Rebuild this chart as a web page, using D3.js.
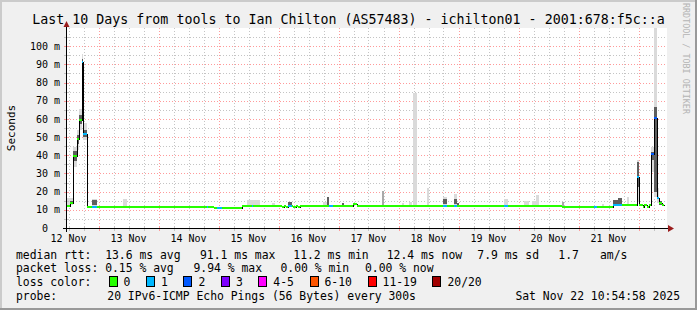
<!DOCTYPE html>
<html><head><meta charset="utf-8">
<script src="https://cdn.jsdelivr.net/npm/d3@7"></script>
<style>
html,body{margin:0;padding:0;background:#f0f0f0;}
svg{display:block;}
text{font-family:"DejaVu Sans Mono",monospace;}
</style></head><body>
<svg id="c" width="697" height="310"></svg>
<script>
// ---------------- data ----------------
const title = "Last 10 Days from tools to Ian Chilton (AS57483) - ichilton01 - 2001:678:f5c::a";
const timeStart = "2025-11-12 11:24";
const timeEnd = "2025-11-22 11:24";
const dataEnd = "2025-11-22 10:12";
const yLabelValues = [0,10,20,30,40,50,60,70,80,90,100];   // ms
const yMinorValues = [5,15,25,35,45,55,65,75,85,95,105];   // ms
const yMax = 110;

// median rtt (ms), step series: value holds from its time until the next time
const medianTimes = [
 "2025-11-12 11:24","2025-11-12 12:36","2025-11-12 13:55","2025-11-12 15:17","2025-11-12 16:12",
 "2025-11-12 17:17","2025-11-12 17:55","2025-11-12 19:17","2025-11-12 21:17","2025-11-12 23:17",
 "2025-11-14 19:17","2025-11-14 19:55","2025-11-14 22:12","2025-11-14 23:17","2025-11-15 01:24",
 "2025-11-15 09:17","2025-11-15 13:17","2025-11-15 13:55","2025-11-16 01:17","2025-11-16 02:12",
 "2025-11-16 03:00","2025-11-16 03:55","2025-11-16 05:17","2025-11-16 05:48","2025-11-16 06:48",
 "2025-11-16 07:36","2025-11-16 08:24","2025-11-16 20:19","2025-11-16 21:55","2025-11-17 05:55",
 "2025-11-17 07:31","2025-11-18 17:55","2025-11-18 19:31","2025-11-18 22:12","2025-11-18 23:31",
 "2025-11-19 18:12","2025-11-19 19:48","2025-11-20 17:17","2025-11-21 06:12","2025-11-21 07:17",
 "2025-11-21 13:55","2025-11-21 17:17","2025-11-21 23:17","2025-11-22 00:19","2025-11-22 01:41",
 "2025-11-22 02:12","2025-11-22 03:17","2025-11-22 04:05","2025-11-22 04:53","2025-11-22 06:12",
 "2025-11-22 07:12","2025-11-22 08:19","2025-11-22 09:17"];
const medianValues = [
 11.9,13.6,39.6,48.8,59.4,
 91.1,51.9,11.8,11.8,11.8,
 11.8,11.8,11.1,11.1,11.1,
 12.3,12.3,12.3,11.8,12.3,
 11.8,12.3,12.3,11.8,12.3,
 11.8,12.3,12.3,12.3,13.2,
 12.3,12.3,12.3,12.3,12.3,
 12.3,12.3,11.8,11.8,11.8,
 12.4,12.4,27.9,12.4,11.7,
 12.4,11.7,12.4,40.5,60.6,
 16.5,13.8,12.4];
// lost pings (of 20) per step -> loss colour bucket index
const medianLoss = [
 0,0,0,0,0,
 1,1,0,1,0,
 1,0,0,1,0,
 0,1,0,0,0,
 0,1,0,0,0,
 0,0,1,0,0,
 0,1,0,1,0,
 1,0,0,1,0,
 1,0,1,0,0,
 0,0,0,2,2,
 1,0,0];

// smoke (ping spread) blocks
const smokeStart = [
 "2025-11-12 11:24","2025-11-12 12:36","2025-11-12 12:36","2025-11-12 13:55","2025-11-12 13:55",
 "2025-11-12 15:17","2025-11-12 15:17","2025-11-12 16:12","2025-11-12 16:12","2025-11-12 17:17",
 "2025-11-12 17:17","2025-11-12 17:55","2025-11-12 17:55","2025-11-12 21:17","2025-11-12 21:17",
 "2025-11-13 09:48","2025-11-15 11:17","2025-11-15 21:17","2025-11-16 03:48","2025-11-16 17:48",
 "2025-11-16 19:17","2025-11-17 01:17","2025-11-17 17:17","2025-11-18 01:17","2025-11-18 04:19",
 "2025-11-18 05:55","2025-11-18 11:17","2025-11-18 17:55","2025-11-18 17:55","2025-11-18 22:12",
 "2025-11-18 22:12","2025-11-18 23:31","2025-11-19 18:12","2025-11-20 02:12","2025-11-20 05:19",
 "2025-11-20 07:05","2025-11-20 17:17","2025-11-21 09:17","2025-11-21 13:55","2025-11-21 15:55",
 "2025-11-21 19:17","2025-11-21 23:17","2025-11-21 23:17","2025-11-22 04:53","2025-11-22 04:53",
 "2025-11-22 06:12","2025-11-22 06:12","2025-11-22 07:12","2025-11-22 08:19"];
const smokeEnd = [
 "2025-11-12 12:36","2025-11-12 13:55","2025-11-12 13:55","2025-11-12 15:17","2025-11-12 15:17",
 "2025-11-12 16:12","2025-11-12 16:12","2025-11-12 17:17","2025-11-12 17:17","2025-11-12 17:55",
 "2025-11-12 17:55","2025-11-12 19:17","2025-11-12 19:17","2025-11-12 23:17","2025-11-12 23:17",
 "2025-11-13 11:24","2025-11-15 16:36","2025-11-15 22:36","2025-11-16 05:17","2025-11-16 19:17",
 "2025-11-16 20:19","2025-11-17 02:12","2025-11-17 18:12","2025-11-18 02:12","2025-11-18 05:31",
 "2025-11-18 07:17","2025-11-18 12:12","2025-11-18 19:31","2025-11-18 19:31","2025-11-18 23:31",
 "2025-11-18 23:31","2025-11-19 00:19","2025-11-19 19:55","2025-11-20 04:12","2025-11-20 07:05",
 "2025-11-20 08:00","2025-11-20 18:12","2025-11-21 10:12","2025-11-21 15:55","2025-11-21 17:17",
 "2025-11-21 20:12","2025-11-22 00:19","2025-11-22 00:19","2025-11-22 06:12","2025-11-22 06:12",
 "2025-11-22 07:12","2025-11-22 07:12","2025-11-22 08:19","2025-11-22 09:17"];
const smokeLow = [
 12.0,12.5,13.0,33.7,37.0, 42.9,46.0,53.9,57.0,85.0, 88.0,48.4,50.0,12.0,12.6,
 12.3,12.5,12.5,12.5,12.5, 12.5,12.5,12.5,12.5,12.5, 12.5,12.5,12.5,13.0,12.5,
 13.0,12.6,12.5,12.5,12.5, 12.5,12.0,12.0,12.5,12.5, 12.5,14.5,22.7,31.0,37.4,
 17.2,20.0,14.0,12.5];
const smokeHigh = [
 16.5,16.5,15.0,44.7,42.5, 53.9,51.0,65.3,62.0,95.7, 93.0,57.6,54.0,16.0,15.4,
 15.8,15.2,13.9,14.2,14.5, 16.9,13.9,20.3,13.9,14.5, 74.4,22.0,17.2,15.8,18.7,
 15.8,13.6,15.8,14.8,14.8, 18.2,14.5,13.2,15.4,16.7, 16.9,37.4,36.5,44.7,42.0,
 115,66.7,22.0,15.0];
const smokeShade = [
 "light","light","dark","light","dark", "light","dark","light","dark","light",
 "dark","light","dark","light","dark",
 "light","light","light","dark","light", "dark","dark","mid","light","light",
 "light","light","light","dark","light", "dark","dark","light","light","light",
 "light","mid","light","dark","dark", "light","light","dark","light","dark",
 "light","dark","light","dark"];

const lossLabels = ["0","1","2","3","4-5","6-10","11-19","20/20"];
const lossColors = ["#26ff00","#00b8ff","#0059ff","#7e00ff","#ff00ff","#ff5500","#ff0000","#a10000"];
const rttStats = ["median rtt:  13.6 ms avg","91.1 ms max","11.2 ms min","12.4 ms now","7.9 ms sd","1.7","am/s"];
const lossStats = ["packet loss: 0.15 % avg","9.94 % max","0.00 % min","0.00 % now"];
const probeText = ["probe:","20 IPv6-ICMP Echo Pings (56 Bytes) every 300s"];
const stamp = "Sat Nov 22 10:54:58 2025";
const yUnit = "Seconds";
const watermark = "RRDTOOL / TOBI OETIKER";

// ---------------- drawing ----------------
const W = 697, H = 310;
const L = 67, R = 667, T = 28, B = 228;
const svg = d3.select("#c");
const parseT = d3.utcParse("%Y-%m-%d %H:%M");
const x = d3.scaleUtc().domain([parseT(timeStart), parseT(timeEnd)]).range([L, R]);
const y = d3.scaleLinear().domain([0, yMax]).range([B, T]);
const X = s => Math.round(x(parseT(s)));
const Y = v => y(Math.min(v, yMax + 5));

svg.append("rect").attr("width", W).attr("height", H).attr("fill", "#f0f0f0");
svg.append("rect").attr("x",0).attr("y",0).attr("width",W).attr("height",2).attr("fill","#cbcbcb");
svg.append("rect").attr("x",0).attr("y",0).attr("width",2).attr("height",H).attr("fill","#cbcbcb");
svg.append("rect").attr("x",0).attr("y",H-2).attr("width",W).attr("height",2).attr("fill","#999");
svg.append("rect").attr("x",W-2).attr("y",0).attr("width",2).attr("height",H).attr("fill","#999");

svg.append("defs").append("clipPath").attr("id","pc").append("rect")
  .attr("x",L).attr("y",T).attr("width",R-L).attr("height",B-T);
svg.append("rect").attr("x",L).attr("y",T).attr("width",R-L).attr("height",B-T).attr("fill","#fff");

const minorC = "#c4c4c4", majorC = "#ff9a9a";
const grid = svg.append("g").attr("shape-rendering","crispEdges").attr("stroke-dasharray","1,2");
const six = d3.utcHour.every(6).range(x.domain()[0], x.domain()[1]);
const days = d3.utcDay.range(x.domain()[0], x.domain()[1]);
six.filter(d => d.getUTCHours() !== 0).forEach(d => {
  const xp = Math.round(x(d)) + 0.5;
  grid.append("line").attr("x1",xp).attr("x2",xp).attr("y1",T).attr("y2",B).attr("stroke",minorC);
});
yMinorValues.forEach(v => {
  const yp = Math.round(y(v)) + 0.5;
  grid.append("line").attr("x1",L).attr("x2",R).attr("y1",yp).attr("y2",yp).attr("stroke",minorC);
});
days.forEach(d => {
  const xp = Math.round(x(d)) + 0.5;
  grid.append("line").attr("x1",xp).attr("x2",xp).attr("y1",T).attr("y2",B).attr("stroke",majorC);
});
yLabelValues.filter(v => v > 0).forEach(v => {
  const yp = Math.round(y(v)) + 0.5;
  grid.append("line").attr("x1",L).attr("x2",R).attr("y1",yp).attr("y2",yp).attr("stroke",majorC);
});

// smoke
const shadeColor = {light:"#dadada", mid:"#a9a9a9", dark:"#5e5e5e"};
const sm = svg.append("g").attr("clip-path","url(#pc)").attr("shape-rendering","crispEdges");
smokeStart.forEach((s, i) => {
  const x0 = X(s), x1 = X(smokeEnd[i]);
  const y0 = Math.round(Y(smokeHigh[i])), y1 = Math.round(Y(smokeLow[i]));
  sm.append("rect").attr("x",x0).attr("y",y0).attr("width",Math.max(1,x1-x0)).attr("height",Math.max(1,y1-y0))
    .attr("fill", shadeColor[smokeShade[i]]);
});

// median line (black step) and loss coloured bands
const pts = medianTimes.map((t, i) => [X(t), Math.round(y(medianValues[i])) + 0.5]);
pts.push([X(dataEnd), Math.round(y(medianValues[medianValues.length-1])) + 0.5]);
svg.append("path").attr("d", d3.line().curve(d3.curveStepAfter)(pts.map(p => [p[0] + 0.5, p[1]])))
  .attr("fill","none").attr("stroke","#000").attr("stroke-width",1).attr("shape-rendering","crispEdges");
const bands = svg.append("g").attr("shape-rendering","crispEdges");
medianTimes.forEach((t, i) => {
  const x0 = X(t), x1 = X(i + 1 < medianTimes.length ? medianTimes[i+1] : dataEnd);
  const yc = Math.round(y(medianValues[i]));
  bands.append("rect").attr("x",x0).attr("y",yc-1).attr("width",Math.max(1,x1-x0)).attr("height",2)
    .attr("fill", lossColors[medianLoss[i]]);
});

// axes
const ax = svg.append("g").attr("shape-rendering","crispEdges");
six.forEach(d => {
  const xp = Math.round(x(d)) + 0.5;
  ax.append("line").attr("x1",xp).attr("x2",xp).attr("y1",226).attr("y2",231)
    .attr("stroke", d.getUTCHours() === 0 ? majorC : minorC);
});
yMinorValues.concat(yLabelValues).forEach(v => {
  const yp = Math.round(y(v)) + 0.5;
  ax.append("line").attr("x1",64).attr("x2",69).attr("y1",yp).attr("y2",yp)
    .attr("stroke", v % 10 === 0 ? majorC : minorC);
});
ax.append("line").attr("x1",63).attr("x2",669).attr("y1",B+0.5).attr("y2",B+0.5).attr("stroke","#000");
ax.append("line").attr("x1",L-0.5).attr("x2",L-0.5).attr("y1",232).attr("y2",25).attr("stroke","#000");
svg.append("path").attr("d",`M668,225L674,228.5L668,232Z`).attr("fill","#9a1c1c");
svg.append("path").attr("d",`M63.5,27L66.5,21L69.5,27Z`).attr("fill","#9a1c1c");

// axis labels
const fmtDay = d3.utcFormat("%d %b");
days.map(d => d3.utcHour.offset(d, 12)).concat([d3.utcHour.offset(d3.utcDay.floor(x.domain()[0]), 12)])
  .filter(d => x(d) >= L && x(d) <= R)
  .forEach(d => {
    svg.append("text").attr("x", x(d)).attr("y", 241.5).attr("text-anchor","middle")
      .attr("font-size","10px").attr("fill","#000").text(fmtDay(d));
  });
yLabelValues.forEach(v => {
  svg.append("text").attr("x", v === 0 ? 48 : 60).attr("y", y(v) + 3.6).attr("text-anchor","end")
    .attr("font-size","10px").attr("fill","#000").text(v === 0 ? "0" : v + " m");
});
svg.append("text").attr("transform","translate(15,128) rotate(-90)").attr("text-anchor","middle")
  .attr("font-size","11px").attr("fill","#000").text(yUnit);
svg.append("text").attr("x", 348.5).attr("y", 24).attr("text-anchor","middle")
  .attr("font-size","13.3px").attr("fill","#000").text(title);
svg.append("text").attr("transform","translate(683,3) rotate(90)")
  .attr("font-size","8.4px").attr("fill","#b4b4b4").text(watermark);

// legend
const lf = "11.4px";
const leg = (tx, lx, ly) => svg.append("text").attr("x",lx).attr("y",ly).attr("font-size",lf)
  .attr("fill","#000").style("white-space","pre").text(tx);
const rttX = [16, 200, 293.3, 386.7, 477.3, 558.3, 600];
rttStats.forEach((s, i) => leg(s, rttX[i], 258.5));
const lossX = [16, 193.5, 280.5, 365];
lossStats.forEach((s, i) => leg(s, lossX[i], 272.3));
leg("loss color:", 16, 286.1);
let lx = 108.5;
lossLabels.forEach((lab, i) => {
  svg.append("rect").attr("x", lx + 0.5).attr("y", 276.5).attr("width", 8).attr("height", 10)
    .attr("fill", lossColors[i]).attr("stroke","#000").attr("stroke-width",1).attr("shape-rendering","crispEdges");
  const t = leg(lab, lx + 15, 286.1);
  lx = lx + 15 + t.node().getComputedTextLength() + 15.6;
});
leg(probeText[0], 16, 299.9);
leg(probeText[1], 107.3, 299.9);
svg.append("text").attr("x", 680).attr("y", 299.9).attr("text-anchor","end").attr("font-size",lf)
  .attr("fill","#000").text(stamp);
</script>
</body></html>
